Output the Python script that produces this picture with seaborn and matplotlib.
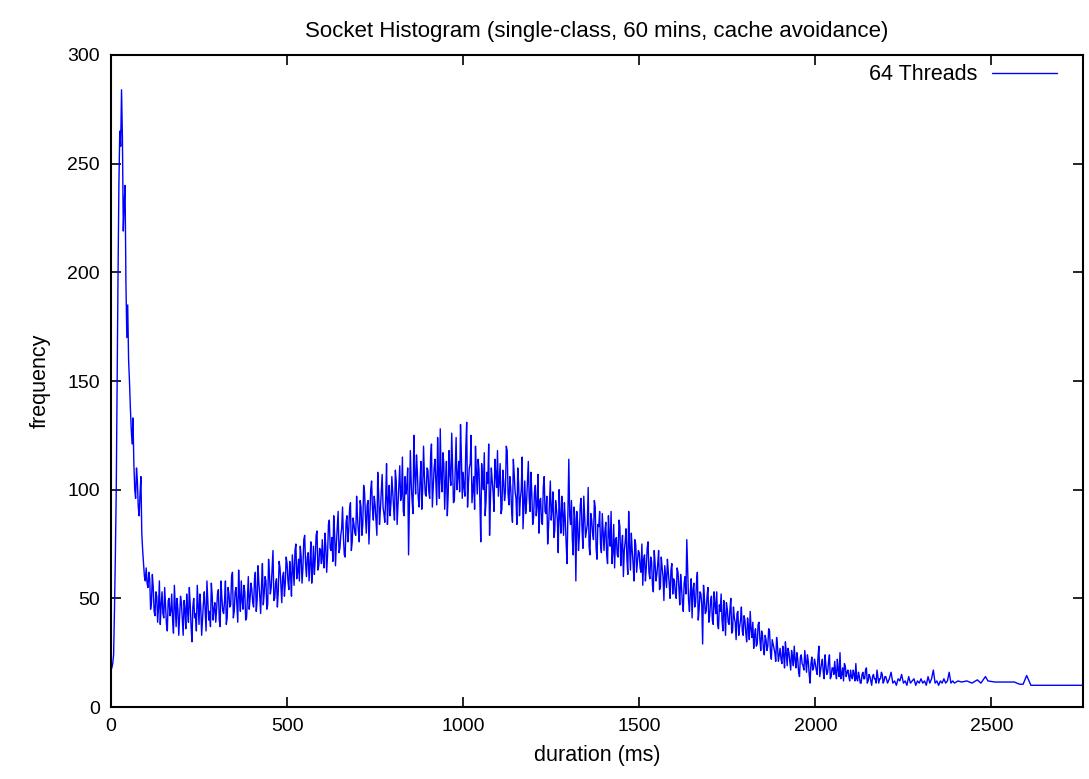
import numpy as np
import pandas as pd
import seaborn as sns
import matplotlib
matplotlib.use('Agg')
import matplotlib.pyplot as plt

### Data ###

# frequency per 5 ms bin, 0 .. 2395 ms
bin_ms = 5
freq_main = [
    # 0 - 95
    17, 20, 45, 100, 198, 265, 284, 219, 240, 170, 160, 138, 121, 112, 96, 104, 88, 106, 72, 60,
    # 100 - 195
    64, 55, 59, 48, 55, 42, 51, 46, 38, 53, 41, 47, 35, 50, 44, 40, 56, 37, 45, 42,
    # 200 - 295
    48, 33, 45, 52, 39, 47, 30, 50, 43, 56, 38, 46, 41, 53, 35, 49, 44, 57, 40, 48,
    # 300 - 395
    45, 54, 37, 50, 43, 58, 41, 52, 47, 62, 44, 55, 39, 51, 58, 45, 53, 41, 60, 50,
    # 400 - 495
    54, 46, 62, 49, 57, 43, 66, 52, 58, 47, 61, 55, 72, 50, 59, 53, 64, 48, 62, 57,
    # 500 - 595
    66, 54, 61, 70, 56, 75, 62, 58, 69, 64, 79, 60, 71, 66, 57, 74, 68, 81, 65, 72,
    # 600 - 695
    77, 64, 74, 70, 86, 72, 67, 80, 75, 90, 73, 82, 78, 69, 88, 81, 94, 76, 84, 79,
    # 700 - 795
    87, 76, 92, 84, 99, 80, 95, 88, 104, 86, 93, 79, 98, 91, 107, 89, 96, 84, 102, 94,
    # 800 - 895
    99, 86, 104, 93, 111, 97, 90, 106, 101, 70, 118, 95, 125, 98, 108, 92, 113, 100, 106, 97,
    # 900 - 995
    109, 96, 121, 101, 114, 93, 107, 128, 99, 112, 104, 88, 118, 102, 110, 95, 124, 106, 99, 115,
    # 1000 - 1095
    108, 97, 131, 103, 112, 94, 106, 120, 98, 109, 76, 104, 117, 95, 103, 79, 110, 99, 114, 101,
    # 1100 - 1195
    97, 112, 91, 104, 99, 118, 93, 101, 85, 107, 96, 110, 88, 100, 82, 104, 94, 113, 90, 98,
    # 1200 - 1295
    87, 102, 93, 80, 96, 84, 106, 89, 75, 94, 86, 99, 81, 91, 71, 88, 97, 79, 86, 66,
    # 1300 - 1395
    114, 84, 77, 92, 58, 85, 79, 96, 73, 88, 81, 101, 70, 86, 77, 92, 68, 83, 75, 89,
    # 1400 - 1495
    72, 85, 66, 79, 90, 71, 64, 78, 69, 83, 74, 60, 76, 68, 90, 63, 72, 58, 75, 67,
    # 1500 - 1595
    71, 62, 56, 70, 64, 76, 59, 67, 53, 66, 61, 72, 55, 64, 49, 60, 68, 57, 63, 52,
    # 1600 - 1695
    58, 50, 62, 47, 55, 44, 60, 77, 49, 53, 41, 57, 48, 62, 45, 52, 29, 50, 44, 55,
    # 1700 - 1795
    42, 51, 38, 47, 53, 36, 44, 40, 49, 33, 45, 38, 50, 35, 41, 31, 44, 37, 46, 33,
    # 1800 - 1895
    40, 30, 37, 44, 32, 27, 36, 29, 39, 26, 33, 24, 31, 28, 35, 22, 29, 25, 32, 21,
    # 1900 - 1995
    27, 20, 24, 30, 19, 25, 17, 23, 28, 18, 22, 14, 24, 19, 26, 16, 21, 11, 23, 18,
    # 2000 - 2095
    20, 15, 28, 17, 22, 13, 19, 16, 24, 14, 18, 21, 13, 17, 25, 15, 12, 19, 16, 14,
    # 2100 - 2195
    17, 13, 15, 20, 12, 14, 11, 16, 13, 18, 12, 14, 10, 15, 13, 17, 11, 13, 15, 12,
    # 2200 - 2295
    14, 11, 13, 16, 11, 12, 10, 13, 12, 15, 11, 12, 10, 14, 11, 12, 13, 10, 12, 11,
    # 2300 - 2395
    13, 11, 12, 10, 14, 11, 13, 17, 11, 12, 10, 12, 11, 13, 11, 12, 16, 11, 12, 11,
]

# in-between bins (2.5, 7.5, ... ms), 2.5 .. 2197.5 ms
freq_half = [
    # 0 - 95
    18, 24, 70, 150, 240, 258, 262, 232, 195, 185, 150, 128, 133, 100, 110, 92, 98, 80, 66, 58,
    # 100 - 195
    57, 62, 45, 61, 44, 53, 39, 58, 47, 43, 55, 38, 49, 42, 52, 34, 46, 50, 33, 51,
    # 200 - 295
    40, 49, 36, 44, 55, 37, 46, 41, 35, 47, 52, 33, 48, 44, 58, 40, 37, 51, 45, 39,
    # 300 - 395
    52, 40, 58, 44, 49, 38, 55, 46, 60, 41, 53, 47, 63, 44, 49, 56, 40, 51, 45, 57,
    # 400 - 495
    48, 59, 44, 65, 51, 56, 47, 60, 45, 68, 52, 63, 49, 57, 46, 67, 56, 60, 51, 69,
    # 500 - 595
    58, 67, 51, 63, 72, 59, 68, 74, 57, 77, 66, 69, 58, 76, 64, 61, 79, 63, 73, 66,
    # 600 - 695
    68, 80, 62, 84, 73, 78, 88, 65, 83, 71, 79, 92, 70, 85, 76, 91, 72, 87, 80, 97,
    # 700 - 795
    81, 95, 79, 102, 88, 93, 75, 100, 91, 97, 86, 108, 84, 99, 92, 85, 112, 95, 88, 106,
    # 800 - 895
    92, 109, 84, 102, 95, 115, 88, 98, 110, 94, 103, 89, 107, 116, 96, 104, 91, 120, 98, 110,
    # 900 - 995
    99, 115, 92, 110, 103, 124, 96, 105, 117, 91, 113, 98, 107, 126, 94, 109, 100, 113, 130, 96,
    # 1000 - 1095
    101, 119, 92, 110, 125, 100, 91, 108, 114, 95, 112, 100, 88, 108, 121, 96, 104, 90, 107, 118,
    # 1100 - 1195
    105, 89, 109, 95, 120, 98, 106, 91, 114, 99, 84, 103, 96, 115, 93, 89, 104, 96, 108, 84,
    # 1200 - 1295
    99, 88, 107, 95, 85, 101, 90, 97, 83, 104, 91, 78, 95, 86, 100, 80, 89, 94, 75, 91,
    # 1300 - 1395
    88, 95, 70, 86, 90, 72, 93, 82, 97, 78, 84, 74, 89, 80, 95, 73, 84, 90, 71, 80,
    # 1400 - 1495
    81, 70, 88, 74, 66, 84, 77, 70, 86, 65, 79, 72, 82, 61, 74, 80, 66, 77, 62, 72,
    # 1500 - 1595
    64, 75, 68, 58, 73, 62, 69, 56, 72, 58, 66, 54, 69, 60, 65, 55, 62, 50, 66, 59,
    # 1600 - 1695
    52, 64, 55, 61, 48, 57, 52, 63, 44, 59, 54, 46, 57, 40, 53, 47, 56, 43, 51, 39,
    # 1700 - 1795
    49, 40, 53, 43, 38, 47, 52, 35, 43, 48, 39, 45, 34, 46, 39, 43, 33, 40, 35, 42,
    # 1800 - 1895
    34, 41, 31, 36, 39, 33, 28, 38, 31, 35, 27, 33, 26, 36, 25, 31, 27, 21, 28, 24,
    # 1900 - 1995
    22, 28, 18, 25, 27, 21, 26, 19, 22, 25, 16, 23, 20, 17, 21, 24, 15, 20, 17, 22,
    # 2000 - 2095
    17, 23, 14, 20, 16, 24, 15, 21, 13, 18, 15, 16, 22, 14, 13, 18, 20, 14, 17, 12,
    # 2100 - 2195
    14, 17, 12, 13, 16, 11, 15, 13, 17, 11, 15, 12, 14, 13, 11, 14, 13, 16, 11, 14,
]

# sparse tail (irregular bins)
tail_ms = [2405, 2415, 2430, 2445, 2460, 2470, 2483, 2490, 2510, 2530, 2550,
           2565, 2580, 2590, 2600, 2612, 2760]
tail_freq = [12, 11.5, 12, 11, 12.5, 11, 14, 12, 11.5, 11.5, 11.5,
             11.5, 10.5, 10.5, 14.5, 10, 10]

main_ms = list(np.arange(len(freq_main)) * bin_ms)
half_ms = list(np.arange(len(freq_half)) * bin_ms + bin_ms / 2)
df = pd.DataFrame({'duration': main_ms + half_ms + tail_ms,
                   'frequency': freq_main + freq_half + tail_freq})
df = df.sort_values('duration')

### Plot ###

sns.set_style('ticks')
plt.rcParams['font.family'] = ['Liberation Sans', 'DejaVu Sans']
plt.rcParams['text.color'] = 'black'
plt.rcParams['axes.labelcolor'] = 'black'

fig = plt.figure(figsize=(10.89, 7.79), dpi=100)
ax = fig.add_axes([0.1019, 0.0924, 0.8926, 0.837])

sns.lineplot(data=df, x='duration', y='frequency', color='#0000ff',
             linewidth=1.0, label='64 Threads', ax=ax)

ax.set_xlim(0, 2760)
ax.set_ylim(0, 300)
ax.set_xticks([0, 500, 1000, 1500, 2000, 2500])
ax.set_yticks([0, 50, 100, 150, 200, 250, 300])
ax.tick_params(direction='in', length=7, width=1.2, top=True, right=True,
               labelsize=14, pad=8, colors='black')
for s in ax.spines.values():
    s.set_visible(True)
    s.set_linewidth(1.5)
    s.set_color('black')

ax.set_title('Socket Histogram (single-class, 60 mins, cache avoidance)',
             fontsize=16, pad=13)
ax.set_xlabel('duration (ms)', fontsize=15.5, labelpad=7)
ax.set_ylabel('frequency', fontsize=15.5, labelpad=12)

leg = ax.legend(loc='upper right', bbox_to_anchor=(0.9733, 0.986),
                frameon=False, markerfirst=False, fontsize=15.5,
                handlelength=3.0, borderaxespad=0, borderpad=0,
                handletextpad=0.7)

plt.savefig('out.png', dpi=100)
